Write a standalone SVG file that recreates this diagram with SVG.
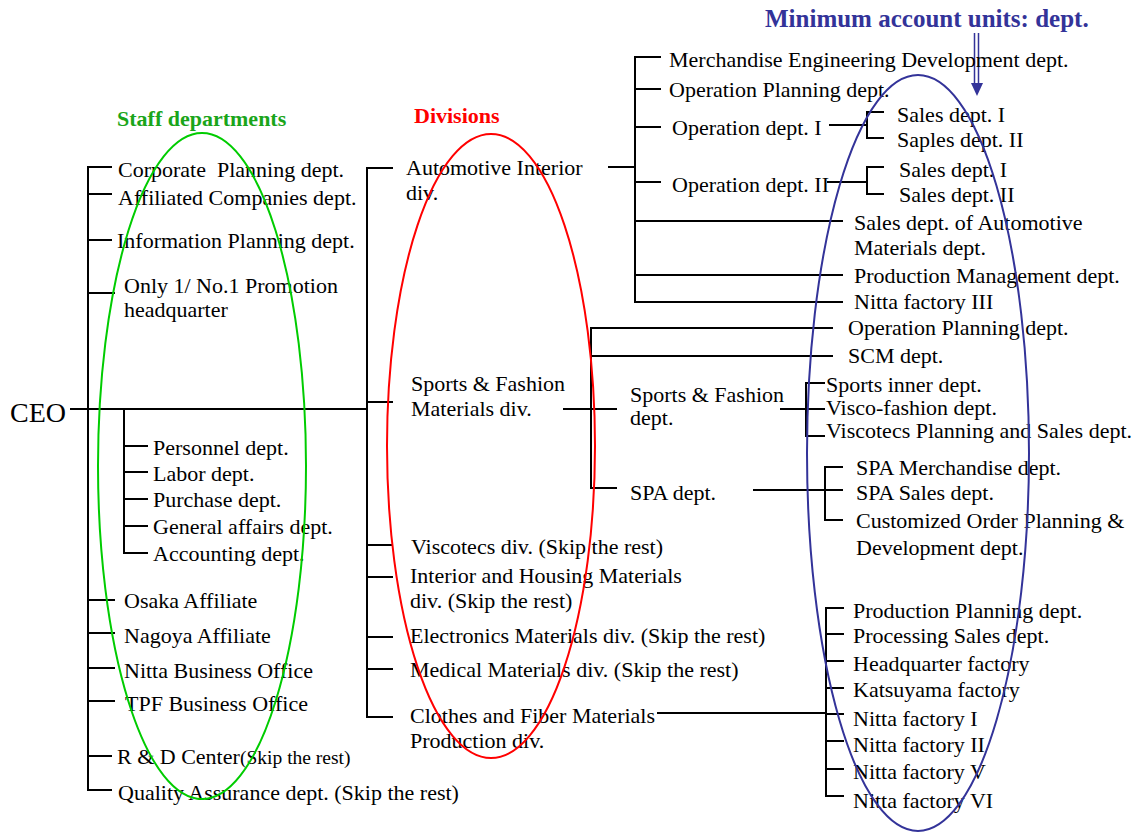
<svg xmlns="http://www.w3.org/2000/svg" width="1137" height="833" viewBox="0 0 1137 833">
<style>
text{font-family:"Liberation Serif","Times New Roman",serif;font-size:22px;fill:#000}
.t{font-weight:bold;font-size:22px}
.sm{font-size:19.5px}
.ln{stroke:#000;stroke-width:2;fill:none}
.ov{fill:none;stroke-width:2}
</style>
<rect width="1137" height="833" fill="#fff"/>
<g id="connectors" class="ln">
<path d="M70 409H367"/>
<path d="M112 167H88V790H112M88 194H112M88 240H112M88 293H115M88 600H115M88 633H115M88 668H115M88 701H115M88 756H112"/>
<path d="M124 409V553H148M124 446H148M124 472H148M124 499H148M124 526H148"/>
<path d="M393 168H367V717H393M367 402H393M367 545H393M367 577H393M367 637H393M367 669H393"/>
<path d="M608 167H635M661 57H635V302H708M635 89H661M635 127H661M635 182H661M635 221H843M635 275H843M635 302H843"/>
<path d="M829 125H867M884 112H867V138H884M827 182H867M884 167H867V194H884"/>
<path d="M833 328H591V488H617M591 356H833M563 409H617"/>
<path d="M780 409H806M825 383H806V436H825M806 409H825"/>
<path d="M753 490H825M843 467H825V520H843M825 490H843"/>
<path d="M657 713H826M844 608H826V796H844M826 634H844M826 661H844M826 688H844M826 714H844M826 741H844M826 769H844"/>
<path d="M974.5 33V84M978.5 33V84" stroke="#333399" stroke-width="1.5"/>
<polygon points="971,83 983,83 977,96" fill="#333399" stroke="none"/>
</g>
<g id="ceo"><text x="10" y="422" style="font-size:28px">CEO</text></g>
<g id="staff-title"><text class="t" x="117" y="126" style="fill:#1aa51a">Staff departments</text></g>
<g id="corporate-planning"><text x="118" y="177" style="white-space:pre">Corporate  Planning dept.</text></g>
<g id="affiliated"><text x="118" y="205">Affiliated Companies dept.</text></g>
<g id="information-planning"><text x="117" y="248">Information Planning dept.</text></g>
<g id="only1"><text x="124" y="293">Only 1/ No.1 Promotion</text><text x="124" y="317">headquarter</text></g>
<g id="personnel"><text x="153" y="455">Personnel dept.</text></g>
<g id="labor"><text x="153" y="481">Labor dept.</text></g>
<g id="purchase"><text x="153" y="507">Purchase dept.</text></g>
<g id="general-affairs"><text x="153" y="534">General affairs dept.</text></g>
<g id="accounting"><text x="153" y="561">Accounting dept.</text></g>
<g id="osaka"><text x="124" y="608">Osaka Affiliate</text></g>
<g id="nagoya"><text x="124" y="643">Nagoya Affiliate</text></g>
<g id="nitta-bo"><text x="124" y="678">Nitta Business Office</text></g>
<g id="tpf-bo"><text x="125" y="711">TPF Business Office</text></g>
<g id="rd"><text x="117" y="764">R &amp; D Center</text><text class="sm" x="240" y="764">(Skip the rest)</text></g>
<g id="qa"><text x="118" y="800">Quality Assurance dept. (Skip the rest)</text></g>
<g id="div-title"><text class="t" x="414" y="123" style="fill:#ff0000">Divisions</text></g>
<g id="automotive"><text x="406" y="175">Automotive Interior</text><text x="406" y="200">div.</text></g>
<g id="sports-div"><text x="411" y="391">Sports &amp; Fashion</text><text x="411" y="416">Materials div.</text></g>
<g id="viscotecs-div"><text x="411" y="554">Viscotecs div. (Skip the rest)</text></g>
<g id="interior-div"><text x="410" y="583">Interior and Housing Materials</text><text x="410" y="608">div. (Skip the rest)</text></g>
<g id="electronics-div"><text x="410" y="643">Electronics Materials div. (Skip the rest)</text></g>
<g id="medical-div"><text x="410" y="677">Medical Materials div. (Skip the rest)</text></g>
<g id="clothes-div"><text x="410" y="723">Clothes and Fiber Materials</text><text x="410" y="748">Production div.</text></g>
<g id="min-title"><text class="t" x="765" y="27" style="fill:#333399;font-size:25px">Minimum account units: dept.</text></g>
<g id="merch-eng"><text x="669" y="67">Merchandise Engineering Development dept.</text></g>
<g id="op-planning-a"><text x="669" y="97">Operation Planning dept.</text></g>
<g id="op-dept-1"><text x="672" y="135">Operation dept. I</text></g>
<g id="sales-1a"><text x="897" y="122">Sales dept. I</text></g>
<g id="saples-2a"><text x="897" y="147">Saples dept. II</text></g>
<g id="op-dept-2"><text x="672" y="192">Operation dept. II</text></g>
<g id="sales-1b"><text x="899" y="177">Sales dept. I</text></g>
<g id="sales-2b"><text x="899" y="202">Sales dept. II</text></g>
<g id="sales-auto"><text x="854" y="230">Sales dept. of Automotive</text><text x="854" y="255">Materials dept.</text></g>
<g id="prod-mgmt"><text x="854" y="283">Production Management dept.</text></g>
<g id="nitta-3"><text x="854" y="309">Nitta factory III</text></g>
<g id="op-planning-s"><text x="848" y="335">Operation Planning dept.</text></g>
<g id="scm"><text x="848" y="363">SCM dept.</text></g>
<g id="sports-dept"><text x="630" y="402">Sports &amp; Fashion</text><text x="630" y="425">dept.</text></g>
<g id="sports-inner"><text x="826" y="392">Sports inner dept.</text></g>
<g id="visco-fashion"><text x="826" y="415">Visco-fashion dept.</text></g>
<g id="viscotecs-ps"><text x="826" y="438">Viscotecs Planning and Sales dept.</text></g>
<g id="spa"><text x="630" y="500">SPA dept.</text></g>
<g id="spa-merch"><text x="856" y="475">SPA Merchandise dept.</text></g>
<g id="spa-sales"><text x="856" y="500">SPA Sales dept.</text></g>
<g id="customized"><text x="856" y="528">Customized Order Planning &amp;</text><text x="856" y="555">Development dept.</text></g>
<g id="prod-planning"><text x="853" y="618">Production Planning dept.</text></g>
<g id="processing-sales"><text x="853" y="643">Processing Sales dept.</text></g>
<g id="hq-factory"><text x="853" y="671">Headquarter factory</text></g>
<g id="katsuyama"><text x="853" y="697">Katsuyama factory</text></g>
<g id="nitta-1"><text x="853" y="726">Nitta factory I</text></g>
<g id="nitta-2"><text x="853" y="752">Nitta factory II</text></g>
<g id="nitta-5"><text x="853" y="779">Nitta factory V</text></g>
<g id="nitta-6"><text x="853" y="808">Nitta factory VI</text></g>
<g id="ovals">
<ellipse class="ov" cx="202" cy="466" rx="104" ry="333" stroke="#00cc00"/>
<ellipse class="ov" cx="491" cy="446" rx="104" ry="312" stroke="#ff0000"/>
<ellipse class="ov" cx="918" cy="453" rx="111" ry="378" stroke="#333399"/>
</g>
</svg>
